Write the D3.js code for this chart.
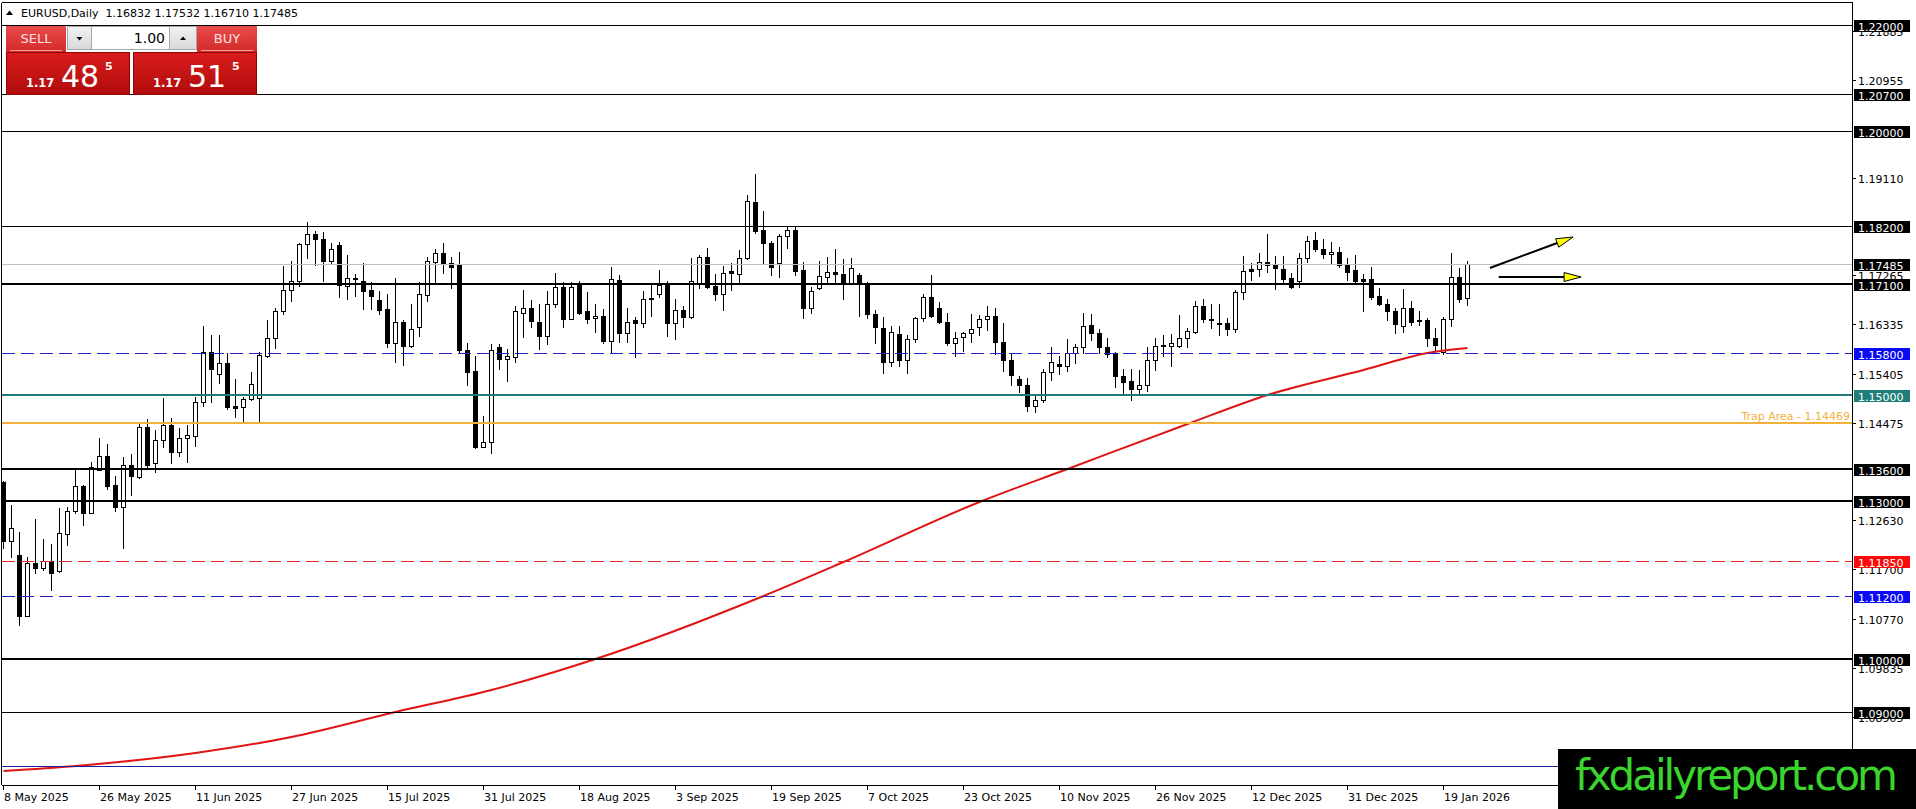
<!DOCTYPE html>
<html>

<head>
    <meta charset="UTF-8">
    <title>EURUSD Daily</title>
    <style>
        body {
            margin: 0;
            background: #fff;
            overflow: hidden;
        }

        svg {
            display: block;
        }

        text {
            font-family: "DejaVu Sans", sans-serif;
        }

        .price-tick,
        .date-tick {
            font-size: 11px;
            fill: #000;
        }

        .level-label {
            font-size: 11px;
            fill: #fff;
        }
    </style>
</head>

<body>
    <svg id="chart" width="1916" height="809"></svg>

    <script src="https://cdnjs.cloudflare.com/ajax/libs/d3/7.8.5/d3.min.js"></script>

    <script>
        // daily candles, 8 May 2025 .. 22 Jan 2026
        const opens = [
            1.1336, 1.1223, 1.1197, 1.1082, 1.1183, 1.1172, 1.1186, 1.1167, 1.1237, 1.1281,
            1.1328, 1.1277, 1.1359, 1.1384, 1.1329, 1.1289, 1.1367, 1.1344, 1.1439, 1.1371,
            1.1415, 1.1443, 1.1392, 1.1419, 1.1423, 1.1486, 1.1582, 1.1540, 1.1560, 1.1479,
            1.1478, 1.1492, 1.1494, 1.1574, 1.1607, 1.1658, 1.1698, 1.1716, 1.1786, 1.1804,
            1.1796, 1.1754, 1.1783, 1.1706, 1.1722, 1.1716, 1.1699, 1.1680, 1.1663, 1.1599,
            1.1638, 1.1593, 1.1629, 1.1690, 1.1751, 1.1769, 1.1750, 1.1748, 1.1586, 1.1545,
            1.1402, 1.1412, 1.1590, 1.1569, 1.1572, 1.1656, 1.1664, 1.1638, 1.1612, 1.1673,
            1.1704, 1.1644, 1.1710, 1.1659, 1.1645, 1.1650, 1.1603, 1.1718, 1.1617, 1.1642,
            1.1636, 1.1681, 1.1692, 1.1709, 1.1637, 1.1660, 1.1647, 1.1710, 1.1762, 1.1706,
            1.1692, 1.1734, 1.1728, 1.1760, 1.1866, 1.1812, 1.1787, 1.1749, 1.1800, 1.1813,
            1.1736, 1.1664, 1.1702, 1.1724, 1.1732, 1.1728, 1.1711, 1.1727, 1.1711, 1.1654,
            1.1626, 1.1562, 1.1615, 1.1567, 1.1605, 1.1645, 1.1685, 1.1664, 1.1639, 1.1598,
            1.1609, 1.1617, 1.1628, 1.1643, 1.1650, 1.1600, 1.1567, 1.1530, 1.1518, 1.1480,
            1.1491, 1.1544, 1.1558, 1.1554, 1.1580, 1.1590, 1.1632, 1.1617, 1.1590, 1.1579,
            1.1535, 1.1527, 1.1511, 1.1518, 1.1567, 1.1595, 1.1593, 1.1593, 1.1607, 1.1620,
            1.1669, 1.1644, 1.1637, 1.1636, 1.1624, 1.1694, 1.1738, 1.1738, 1.1751, 1.1746,
            1.1738, 1.1721, 1.1716, 1.1759, 1.1793, 1.1776, 1.1766, 1.1770, 1.1746, 1.1737,
            1.1719, 1.1719, 1.1687, 1.1673, 1.1659, 1.1630, 1.1664, 1.1642, 1.1642, 1.1608,
            1.1582, 1.1644, 1.1723, 1.16832
        ];
        const highs = [
            1.1338, 1.1292, 1.1241, 1.1194, 1.1265, 1.1227, 1.1218, 1.1287, 1.1289, 1.1361,
            1.1330, 1.1374, 1.1418, 1.1407, 1.1346, 1.1383, 1.1388, 1.1448, 1.1454, 1.1434,
            1.1494, 1.1456, 1.1437, 1.1443, 1.1496, 1.1631, 1.1614, 1.1614, 1.1580, 1.1530,
            1.1497, 1.1543, 1.1581, 1.1642, 1.1664, 1.1744, 1.1753, 1.1788, 1.1828, 1.1811,
            1.1809, 1.1787, 1.1789, 1.1765, 1.1729, 1.1749, 1.1713, 1.1697, 1.1692, 1.1722,
            1.1641, 1.1672, 1.1714, 1.1761, 1.1776, 1.1788, 1.1762, 1.1771, 1.1599, 1.1573,
            1.1460, 1.1596, 1.1596, 1.1587, 1.1669, 1.1699, 1.1679, 1.1673, 1.1697, 1.1730,
            1.1713, 1.1714, 1.1716, 1.1694, 1.1673, 1.1663, 1.1742, 1.1727, 1.1664, 1.1648,
            1.1697, 1.1710, 1.1737, 1.1716, 1.1681, 1.1668, 1.1759, 1.1765, 1.1779, 1.1728,
            1.1744, 1.1749, 1.1774, 1.1878, 1.1918, 1.1848, 1.1791, 1.1805, 1.1817, 1.1817,
            1.1752, 1.1705, 1.1753, 1.1762, 1.1777, 1.1757, 1.1760, 1.1730, 1.1714, 1.1661,
            1.1647, 1.1630, 1.1630, 1.1613, 1.1647, 1.1692, 1.1727, 1.1675, 1.1656, 1.1620,
            1.1620, 1.1653, 1.1651, 1.1669, 1.1664, 1.1637, 1.1578, 1.1535, 1.1532, 1.1501,
            1.1550, 1.1590, 1.1573, 1.1605, 1.1596, 1.1655, 1.1653, 1.1624, 1.1607, 1.1582,
            1.1549, 1.1550, 1.1547, 1.1591, 1.1608, 1.1613, 1.1615, 1.1651, 1.1626, 1.1677,
            1.1681, 1.1672, 1.1672, 1.1645, 1.1699, 1.1763, 1.1749, 1.1768, 1.1805, 1.1763,
            1.1763, 1.1731, 1.1768, 1.1800, 1.1808, 1.1796, 1.1789, 1.1780, 1.1759, 1.1765,
            1.1729, 1.1742, 1.1702, 1.1682, 1.1664, 1.1700, 1.1678, 1.1659, 1.1646, 1.1626,
            1.1647, 1.1769, 1.1741, 1.17532
        ];
        const lows = [
            1.1210, 1.1194, 1.1065, 1.1081, 1.1163, 1.1168, 1.1131, 1.1165, 1.1216, 1.1276,
            1.1254, 1.1276, 1.1358, 1.1322, 1.1281, 1.1210, 1.1311, 1.1343, 1.1363, 1.1355,
            1.1402, 1.1371, 1.1385, 1.1373, 1.1404, 1.1480, 1.1487, 1.1522, 1.1473, 1.1459,
            1.1448, 1.1490, 1.1451, 1.1572, 1.1588, 1.1653, 1.1678, 1.1706, 1.1760, 1.1745,
            1.1716, 1.1750, 1.1686, 1.1681, 1.1687, 1.1662, 1.1663, 1.1653, 1.1591, 1.1562,
            1.1556, 1.1591, 1.1612, 1.1677, 1.1711, 1.1730, 1.1702, 1.1582, 1.1518, 1.1399,
            1.1401, 1.1390, 1.1549, 1.1527, 1.1563, 1.1610, 1.1628, 1.1587, 1.1597, 1.1667,
            1.1628, 1.1643, 1.1653, 1.1636, 1.1619, 1.1598, 1.1581, 1.1601, 1.1601, 1.1572,
            1.1628, 1.1650, 1.1685, 1.1612, 1.1606, 1.1629, 1.1645, 1.1702, 1.1702, 1.1680,
            1.1660, 1.1699, 1.1714, 1.1757, 1.1807, 1.1748, 1.1727, 1.1724, 1.1779, 1.1727,
            1.1645, 1.1656, 1.1701, 1.1711, 1.1713, 1.1682, 1.1710, 1.1650, 1.1646, 1.1598,
            1.1541, 1.1554, 1.1555, 1.1541, 1.1600, 1.1640, 1.1648, 1.1636, 1.1595, 1.1574,
            1.1584, 1.1600, 1.1614, 1.1623, 1.1578, 1.1546, 1.1519, 1.1506, 1.1470, 1.1467,
            1.1487, 1.1528, 1.1540, 1.1546, 1.1561, 1.1580, 1.1604, 1.1579, 1.1571, 1.1516,
            1.1500, 1.1490, 1.1500, 1.1508, 1.1547, 1.1574, 1.1554, 1.1590, 1.1590, 1.1618,
            1.1639, 1.1627, 1.1614, 1.1614, 1.1620, 1.1681, 1.1718, 1.1725, 1.1733, 1.1700,
            1.1711, 1.1702, 1.1705, 1.1752, 1.1772, 1.1759, 1.1747, 1.1743, 1.1718, 1.1713,
            1.1658, 1.1682, 1.1670, 1.1641, 1.1617, 1.1620, 1.1632, 1.1632, 1.1593, 1.1582,
            1.1578, 1.1631, 1.1675, 1.16710
        ];
        const closes = [
            1.1223, 1.1248, 1.1082, 1.1182, 1.1172, 1.1186, 1.1163, 1.1238, 1.1281, 1.1328,
            1.1277, 1.1363, 1.1384, 1.1328, 1.1289, 1.1367, 1.1346, 1.1439, 1.1368, 1.1415,
            1.1443, 1.1392, 1.1419, 1.1424, 1.1486, 1.1582, 1.1549, 1.1560, 1.1478, 1.1476,
            1.1492, 1.1521, 1.1576, 1.1607, 1.1658, 1.1698, 1.1716, 1.1786, 1.1804, 1.1796,
            1.1754, 1.1777, 1.1708, 1.1722, 1.1719, 1.1697, 1.1688, 1.1661, 1.1599, 1.1638,
            1.1593, 1.1624, 1.1692, 1.1754, 1.1769, 1.1748, 1.1742, 1.1585, 1.1544, 1.1402,
            1.1412, 1.1586, 1.1568, 1.1574, 1.1659, 1.1664, 1.1640, 1.1612, 1.1673, 1.1704,
            1.1644, 1.1704, 1.1656, 1.1644, 1.1650, 1.1603, 1.1719, 1.1617, 1.1639, 1.1637,
            1.1681, 1.1684, 1.1708, 1.1637, 1.1660, 1.1647, 1.1716, 1.1762, 1.1705, 1.1692,
            1.1731, 1.1731, 1.1760, 1.1867, 1.1811, 1.1787, 1.1743, 1.1801, 1.1813, 1.1735,
            1.1664, 1.1697, 1.1725, 1.1732, 1.1728, 1.1711, 1.1740, 1.1711, 1.1654, 1.1628,
            1.1562, 1.1620, 1.1567, 1.1605, 1.1645, 1.1685, 1.1650, 1.1638, 1.1598, 1.1608,
            1.1617, 1.1624, 1.1643, 1.1650, 1.1601, 1.1567, 1.1537, 1.1518, 1.1480, 1.1490,
            1.1544, 1.1562, 1.1554, 1.1580, 1.1591, 1.1631, 1.1618, 1.1590, 1.1578, 1.1535,
            1.1525, 1.1511, 1.1518, 1.1567, 1.1593, 1.1592, 1.1598, 1.1607, 1.1621, 1.1669,
            1.1643, 1.1641, 1.1635, 1.1624, 1.1694, 1.1735, 1.1735, 1.1751, 1.1745, 1.1740,
            1.1720, 1.1705, 1.1759, 1.1792, 1.1776, 1.1767, 1.1770, 1.1745, 1.1733, 1.1716,
            1.1716, 1.1686, 1.1673, 1.1658, 1.1634, 1.1664, 1.1639, 1.1640, 1.1607, 1.1595,
            1.1644, 1.1723, 1.1682, 1.17485
        ];

        // moving average (bar index -> value)
        const maBars = [0, 9, 24, 36, 49, 61, 74, 95, 105, 122, 133, 148, 158, 170, 178, 183];
        const maValues = [1.07886, 1.07981, 1.08227, 1.0853, 1.09003, 1.09419, 1.10005, 1.11197,
            1.1184, 1.12976, 1.136, 1.14451, 1.15, 1.15473, 1.15795, 1.15889];

        const dateLabels = ["8 May 2025", "26 May 2025", "11 Jun 2025", "27 Jun 2025", "15 Jul 2025",
            "31 Jul 2025", "18 Aug 2025", "3 Sep 2025", "19 Sep 2025", "7 Oct 2025", "23 Oct 2025",
            "10 Nov 2025", "26 Nov 2025", "12 Dec 2025", "31 Dec 2025", "19 Jan 2026"];
        const dateBars = [0, 12, 24, 36, 48, 60, 72, 84, 96, 108, 120, 132, 144, 156, 168, 180];

        // scale ticks that show on the price axis (partly hidden ones included)
        const priceTicks = [1.21885, 1.20955, 1.19110, 1.17265, 1.16335, 1.15405,
            1.14475, 1.12630, 1.11700, 1.10770, 1.09835, 1.08905];

        const levelPrices = [1.22, 1.207, 1.20, 1.182, 1.171, 1.158, 1.15, 1.14469, 1.136, 1.13,
            1.1185, 1.112, 1.10, 1.09, 1.0798];
        const trapText = "Trap Area - 1.14469";

        // arrows: [bar, price] -> [bar, price]
        const arrowFrom = [[185.8, 1.17403], [186.9, 1.17232]];
        const arrowTo = [[196.2, 1.17989], [197.2, 1.17232]];

        const header = "EURUSD,Daily  1.16832 1.17532 1.16710 1.17485";
        const lotSize = "1.00";
        const sellQuote = ["1.17", "48", "5"];
        const buyQuote = ["1.17", "51", "5"];
        const watermark = "fxdailyreport.com";
    </script>

    <script>
        (function () {
            var svg = d3.select("#chart");

            var plotL = 2, plotR = 1852, plotT = 3, plotB = 785;
            var nBars = opens.length;

            var y = d3.scaleLinear().domain([1.076216, 1.224162]).range([plotB, plotT]);
            var x = d3.scaleLinear().domain([0, nBars - 1]).range([3.5, 3.5 + 8 * (nBars - 1)]);

            const crisp = v => Math.round(v) + 0.5;

            var defs = svg.append("defs");
            defs.append("clipPath").attr("id", "plot")
                .append("rect").attr("x", plotL).attr("y", plotT)
                .attr("width", plotR - plotL).attr("height", plotB - plotT);

            var plot = svg.append("g").attr("clip-path", "url(#plot)");

            // candles
            var candles = plot.append("g").attr("class", "candles")
                .selectAll("g")
                .data(d3.range(nBars))
                .join("g");

            candles.append("line")
                .attr("x1", i => x(i)).attr("x2", i => x(i))
                .attr("y1", i => Math.round(y(highs[i])))
                .attr("y2", i => Math.round(y(lows[i])) + 1)
                .attr("stroke", "#000").attr("stroke-width", 1);

            candles.append("rect")
                .attr("x", i => x(i) - 2)
                .attr("y", i => crisp(y(Math.max(opens[i], closes[i]))))
                .attr("width", 4)
                .attr("height", i => Math.max(0, Math.round(y(Math.min(opens[i], closes[i]))) - Math.round(y(Math.max(opens[i], closes[i])))))
                .attr("fill", i => closes[i] >= opens[i] ? "#fff" : "#000")
                .attr("stroke", "#000").attr("stroke-width", 1);

            // horizontal levels
            const levelStyle = [
                { c: "#000", w: 1, bg: "#000" }, { c: "#000", w: 1, bg: "#000" }, { c: "#000", w: 1, bg: "#000" },
                { c: "#000", w: 1, bg: "#000" }, { c: "#000", w: 2, bg: "#000" },
                { c: "#2121c4", w: 1, bg: "#0a0af5", dash: "13,6" },
                { c: "#1f7b78", w: 2, bg: "#1f7f78" },
                { c: "#f2b03c", w: 2, bg: null },
                { c: "#000", w: 2, bg: "#000" }, { c: "#000", w: 2, bg: "#000" },
                { c: "#e42626", w: 1, bg: "#fc0a0a", dash: "13,6" },
                { c: "#2121c4", w: 1, bg: "#0a0af5", dash: "13,6" },
                { c: "#000", w: 2, bg: "#000" }, { c: "#000", w: 1, bg: "#000" },
                { c: "#1c1c9c", w: 1, bg: null }
            ];

            var levels = svg.append("g").attr("class", "levels");

            // bid line
            var bidY = crisp(y(closes[nBars - 1]));
            levels.append("line")
                .attr("x1", plotL).attr("x2", plotR)
                .attr("y1", bidY).attr("y2", bidY)
                .attr("stroke", "#c0c0c0").attr("stroke-width", 1);

            levels.selectAll("line.level")
                .data(levelPrices)
                .join("line")
                .attr("class", "level")
                .attr("x1", plotL).attr("x2", plotR)
                .attr("y1", (d, i) => levelStyle[i].w == 1 ? crisp(y(d)) : Math.round(y(d)))
                .attr("y2", (d, i) => levelStyle[i].w == 1 ? crisp(y(d)) : Math.round(y(d)))
                .attr("stroke", (d, i) => levelStyle[i].c)
                .attr("stroke-width", (d, i) => levelStyle[i].w)
                .attr("stroke-dasharray", (d, i) => levelStyle[i].dash || null);

            levels.append("text")
                .attr("x", plotR - 2).attr("y", Math.round(y(1.14469)) - 3)
                .attr("text-anchor", "end")
                .attr("font-size", "11px")
                .attr("fill", "#f2b03c")
                .text(trapText);

            // moving average
            var maLine = d3.line()
                .x((d, i) => x(maBars[i]))
                .y(d => y(d))
                .curve(d3.curveMonotoneX);

            plot.append("path")
                .datum(maValues)
                .attr("d", maLine)
                .attr("fill", "none")
                .attr("stroke", "#e01414")
                .attr("stroke-width", 2);

            // arrows
            var arrows = svg.append("g").attr("class", "arrows");
            arrowFrom.forEach(function (a, k) {
                var x1 = x(a[0]), y1 = y(a[1]);
                var x2 = x(arrowTo[k][0]), y2 = y(arrowTo[k][1]);
                var ang = Math.atan2(y2 - y1, x2 - x1);
                var len = 17, hw = 4.5;
                var bx = x2 - len * Math.cos(ang), by = y2 - len * Math.sin(ang);
                arrows.append("line")
                    .attr("x1", x1).attr("y1", y1).attr("x2", bx).attr("y2", by)
                    .attr("stroke", "#000").attr("stroke-width", 2);
                var pts = [
                    [x2, y2],
                    [bx + hw * Math.sin(ang), by - hw * Math.cos(ang)],
                    [bx - hw * Math.sin(ang), by + hw * Math.cos(ang)]
                ];
                arrows.append("polygon")
                    .attr("points", pts.map(p => p.join(",")).join(" "))
                    .attr("fill", "#ffff00").attr("stroke", "#000").attr("stroke-width", 1);
            });

            // frame
            var frame = svg.append("g").attr("class", "frame");
            frame.append("line").attr("x1", plotL - 0.5).attr("x2", plotL - 0.5).attr("y1", plotT).attr("y2", plotB)
                .attr("stroke", "#000");
            frame.append("line").attr("x1", plotL).attr("x2", plotR).attr("y1", plotT - 0.5).attr("y2", plotT - 0.5)
                .attr("stroke", "#000");
            frame.append("line").attr("x1", plotL).attr("x2", plotR).attr("y1", plotB + 0.5).attr("y2", plotB + 0.5)
                .attr("stroke", "#000");
            frame.append("line").attr("x1", plotR + 0.5).attr("x2", plotR + 0.5).attr("y1", plotT - 1).attr("y2", plotB + 1)
                .attr("stroke", "#000");

            // price axis
            var pAxis = svg.append("g").attr("class", "price-axis");
            pAxis.selectAll("line")
                .data(priceTicks)
                .join("line")
                .attr("x1", plotR).attr("x2", plotR + 4)
                .attr("y1", d => crisp(y(d))).attr("y2", d => crisp(y(d)))
                .attr("stroke", "#000");
            pAxis.selectAll("text")
                .data(priceTicks)
                .join("text")
                .attr("class", "price-tick")
                .attr("x", plotR + 6)
                .attr("y", d => Math.round(y(d)) + 4.5)
                .text(d => d.toFixed(5));

            var tags = svg.append("g").attr("class", "level-tags");
            var tagData = levelPrices.map((p, i) => ({ p: p, bg: levelStyle[i].bg }))
                .filter(d => d.bg)
                .concat([{ p: closes[nBars - 1], bg: "#000" }]);
            tags.selectAll("rect")
                .data(tagData)
                .join("rect")
                .attr("x", plotR + 2).attr("y", d => Math.round(y(d.p)) - 5)
                .attr("width", 56).attr("height", 12)
                .attr("fill", d => d.bg);
            tags.selectAll("text")
                .data(tagData)
                .join("text")
                .attr("class", "level-label")
                .attr("x", plotR + 6)
                .attr("y", d => Math.round(y(d.p)) + 5.5)
                .text(d => d.p.toFixed(5));

            // date axis
            var dAxis = svg.append("g").attr("class", "date-axis");
            dAxis.selectAll("line")
                .data(dateBars)
                .join("line")
                .attr("x1", d => x(d)).attr("x2", d => x(d))
                .attr("y1", plotB).attr("y2", plotB + 5)
                .attr("stroke", "#000");
            dAxis.selectAll("text")
                .data(dateLabels)
                .join("text")
                .attr("class", "date-tick")
                .attr("x", (d, i) => x(dateBars[i]) + 0.5)
                .attr("y", plotB + 16)
                .text(d => d);

            // header
            svg.append("path").attr("d", "M6,15 L9.5,10.5 L13,15 Z").attr("fill", "#000");
            svg.append("text")
                .attr("x", 21).attr("y", 17)
                .attr("font-size", "11px")
                .style("white-space", "pre")
                .text(header);

            // one-click trading panel
            var g1 = defs.append("linearGradient").attr("id", "btnRed").attr("x1", 0).attr("x2", 0).attr("y1", 0).attr("y2", 1);
            g1.append("stop").attr("offset", "0%").attr("stop-color", "#ea4b4b");
            g1.append("stop").attr("offset", "100%").attr("stop-color", "#d42a2a");
            var g2 = defs.append("linearGradient").attr("id", "boxRed").attr("x1", 0).attr("x2", 0).attr("y1", 0).attr("y2", 1);
            g2.append("stop").attr("offset", "0%").attr("stop-color", "#d81c1c");
            g2.append("stop").attr("offset", "100%").attr("stop-color", "#b00c0c");
            var g3 = defs.append("linearGradient").attr("id", "btnGrey").attr("x1", 0).attr("x2", 0).attr("y1", 0).attr("y2", 1);
            g3.append("stop").attr("offset", "0%").attr("stop-color", "#f2f2f2");
            g3.append("stop").attr("offset", "100%").attr("stop-color", "#d8d8d8");

            var panel = svg.append("g").attr("class", "panel");
            panel.append("rect").attr("x", 6).attr("y", 26).attr("width", 60).attr("height", 26).attr("fill", "url(#btnRed)");
            panel.append("rect").attr("x", 197).attr("y", 26).attr("width", 60).attr("height", 26).attr("fill", "url(#btnRed)");
            panel.append("line").attr("x1", 10).attr("x2", 62).attr("y1", 50.5).attr("y2", 50.5).attr("stroke", "#f29a9a");
            panel.append("line").attr("x1", 201).attr("x2", 253).attr("y1", 50.5).attr("y2", 50.5).attr("stroke", "#f29a9a");
            panel.append("text").attr("x", 36).attr("y", 43).attr("text-anchor", "middle")
                .attr("font-size", "13px").attr("fill", "#ffe4e4").text("SELL");
            panel.append("text").attr("x", 227).attr("y", 43).attr("text-anchor", "middle")
                .attr("font-size", "13px").attr("fill", "#ffe4e4").text("BUY");

            panel.append("rect").attr("x", 67.5).attr("y", 26.5).attr("width", 24).attr("height", 23)
                .attr("fill", "url(#btnGrey)").attr("stroke", "#a8a8a8");
            panel.append("rect").attr("x", 91.5).attr("y", 26.5).attr("width", 78).attr("height", 23)
                .attr("fill", "#fff").attr("stroke", "#a8a8a8");
            panel.append("rect").attr("x", 169.5).attr("y", 26.5).attr("width", 27).attr("height", 23)
                .attr("fill", "url(#btnGrey)").attr("stroke", "#a8a8a8");
            panel.append("path").attr("d", "M76.5,37 L82.5,37 L79.5,40.5 Z").attr("fill", "#000");
            panel.append("path").attr("d", "M180,40 L186,40 L183,36.5 Z").attr("fill", "#000");
            panel.append("text").attr("x", 165).attr("y", 43).attr("text-anchor", "end")
                .attr("font-family", "Liberation Sans, sans-serif").attr("font-size", "14px").attr("fill", "#000").text(lotSize);

            [[6, sellQuote], [133, buyQuote]].forEach(function (q) {
                var bx = q[0], t = q[1];
                panel.append("rect").attr("x", bx + 0.5).attr("y", 52.5).attr("width", 123).attr("height", 42)
                    .attr("fill", "url(#boxRed)").attr("stroke", "#8e0606");
                panel.append("text").attr("x", bx + 20).attr("y", 87)
                    .attr("font-size", "11.5px").attr("font-weight", "bold").attr("fill", "#fff").text(t[0]);
                panel.append("text").attr("x", bx + 55).attr("y", 87)
                    .attr("font-size", "30px").attr("fill", "#fff").text(t[1]);
                panel.append("text").attr("x", bx + 99).attr("y", 70)
                    .attr("font-size", "11px").attr("font-weight", "bold").attr("fill", "#fff").text(t[2]);
            });

            // watermark
            svg.append("rect").attr("x", 1558).attr("y", 749).attr("width", 358).attr("height", 60).attr("fill", "#000");
            svg.append("text")
                .attr("x", 1575).attr("y", 790)
                .attr("font-family", "Liberation Sans, Arial, sans-serif")
                .attr("font-size", "42px")
                .attr("textLength", 323)
                .attr("fill", "#3ad62e")
                .text(watermark);
        })();
    </script>

</body>

</html>
